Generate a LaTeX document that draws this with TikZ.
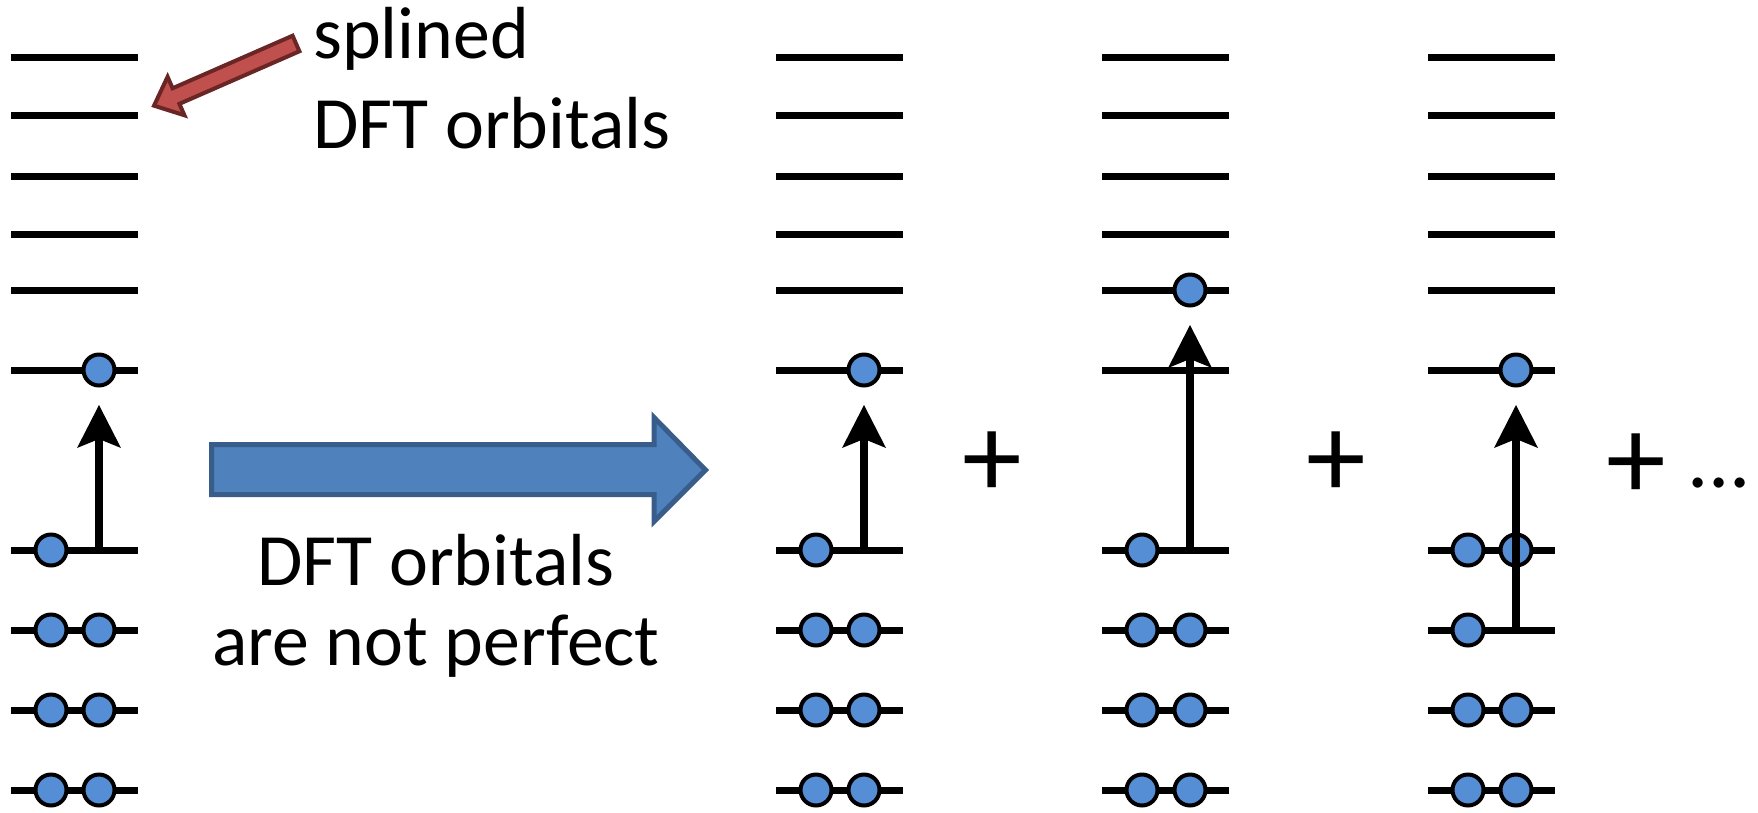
\documentclass[tikz,border=0pt]{standalone}
\usepackage{fontspec}
\setmainfont{Carlito}
\usetikzlibrary{arrows.meta}

\definecolor{elfill}{HTML}{558ED5}
\definecolor{bluefill}{HTML}{4F81BD}
\definecolor{blueedge}{HTML}{385D8A}
\definecolor{redfill}{HTML}{C0504D}
\definecolor{rededge}{HTML}{6A2624}

\tikzset{
  orbital/.style={line width=0.14cm},
  electron/.style={circle, draw, line width=0.08cm, fill=elfill,
    minimum size=0.62cm, inner sep=0pt, outer sep=0pt},
  excite/.style={line width=0.16cm,
    -{Stealth[length=0.86cm,width=0.88cm,inset=0.18cm,line width=0pt]},
    shorten >=0.39cm},
  bigtext/.style={font=\fontsize{42}{45}\selectfont, inner sep=0pt},
  plus/.style={font=\fontsize{68}{68}\selectfont, inner sep=0pt}
}

\begin{document}
\begin{tikzpicture}[x=0.02cm,y=-0.02cm]
 \useasboundingbox (0,0) rectangle (1758,812);

 % orbital levels, four columns
 \draw[orbital] (11,57) -- ++(127,0) (11,115) -- ++(127,0) (11,176) -- ++(127,0)
   (11,234) -- ++(127,0) (11,290) -- ++(127,0) (11,370) -- ++(127,0)
   (11,550) -- ++(127,0) (11,630) -- ++(127,0) (11,710) -- ++(127,0) (11,790) -- ++(127,0);
 \draw[orbital] (776,57) -- ++(127,0) (776,115) -- ++(127,0) (776,176) -- ++(127,0)
   (776,234) -- ++(127,0) (776,290) -- ++(127,0) (776,370) -- ++(127,0)
   (776,550) -- ++(127,0) (776,630) -- ++(127,0) (776,710) -- ++(127,0) (776,790) -- ++(127,0);
 \draw[orbital] (1102,57) -- ++(127,0) (1102,115) -- ++(127,0) (1102,176) -- ++(127,0)
   (1102,234) -- ++(127,0) (1102,290) -- ++(127,0) (1102,370) -- ++(127,0)
   (1102,550) -- ++(127,0) (1102,630) -- ++(127,0) (1102,710) -- ++(127,0) (1102,790) -- ++(127,0);
 \draw[orbital] (1428,57) -- ++(127,0) (1428,115) -- ++(127,0) (1428,176) -- ++(127,0)
   (1428,234) -- ++(127,0) (1428,290) -- ++(127,0) (1428,370) -- ++(127,0)
   (1428,550) -- ++(127,0) (1428,630) -- ++(127,0) (1428,710) -- ++(127,0) (1428,790) -- ++(127,0);

 % column a: ground state guess
 \node[electron] (a-up) at (99,370) {};
 \node[electron] (a-1) at (51,550) {};
 \node[electron] (a-2) at (51,630) {};
 \node[electron] (a-3) at (99,630) {};
 \node[electron] (a-4) at (51,710) {};
 \node[electron] (a-5) at (99,710) {};
 \node[electron] (a-6) at (51,790) {};
 \node[electron] (a-7) at (99,790) {};
 \coordinate (a-from) at (99,550);

 % column b
 \node[electron] (b-up) at (864,370) {};
 \node[electron] (b-1) at (816,550) {};
 \node[electron] (b-2) at (816,630) {};
 \node[electron] (b-3) at (864,630) {};
 \node[electron] (b-4) at (816,710) {};
 \node[electron] (b-5) at (864,710) {};
 \node[electron] (b-6) at (816,790) {};
 \node[electron] (b-7) at (864,790) {};
 \coordinate (b-from) at (864,550);

 % column c
 \node[electron] (c-up) at (1190,290) {};
 \node[electron] (c-1) at (1142,550) {};
 \node[electron] (c-2) at (1142,630) {};
 \node[electron] (c-3) at (1190,630) {};
 \node[electron] (c-4) at (1142,710) {};
 \node[electron] (c-5) at (1190,710) {};
 \node[electron] (c-6) at (1142,790) {};
 \node[electron] (c-7) at (1190,790) {};
 \coordinate (c-from) at (1190,550);

 % column d
 \node[electron] (d-up) at (1516,370) {};
 \node[electron] (d-1) at (1468,550) {};
 \node[electron] (d-2) at (1516,550) {};
 \node[electron] (d-3) at (1468,630) {};
 \node[electron] (d-4) at (1468,710) {};
 \node[electron] (d-5) at (1516,710) {};
 \node[electron] (d-6) at (1468,790) {};
 \node[electron] (d-7) at (1516,790) {};
 \coordinate (d-from) at (1516,630);

 % excitations
 \draw[excite] (a-from) -- (a-up.south);
 \draw[excite] (b-from) -- (b-up.south);
 \draw[excite] (c-from) -- (c-up.south);
 \draw[excite] (d-from) -- (d-up.south);

 % sums
 \node[plus] (p1) at (992,465) {+};
 \node[plus] (p2) at (1336,465) {+};
 \node[plus] (p3) at (1636,467) {+};
 \node[bigtext, font=\fontsize{48}{48}\selectfont, anchor=base] (dots) at (1719,487) {...};

 % red pointer to the levels
 \begin{scope}[shift={(296,43.5)}, rotate=203.65]
  \draw[fill=redfill, draw=rededge, line width=0.08cm]
   (0,-8.5) -- (131,-8.5) -- (131,-21) -- (155,0) -- (131,21) -- (131,8.5) -- (0,8.5) -- cycle;
 \end{scope}
 \node[bigtext, anchor=base west, align=left] (spl) at (313,148) {splined\\[6pt]DFT orbitals};

 % big blue arrow
 \draw[fill=bluefill, draw=blueedge, line width=0.1cm]
  (211.5,444.5) -- (654,444.5) -- (654,417.5) -- (705.5,470) -- (654,521.5)
  -- (654,494.5) -- (211.5,494.5) -- cycle;
 \node[bigtext, anchor=base, align=center] (imperf) at (436,665) {DFT orbitals\\are not perfect};
\end{tikzpicture}
\end{document}
